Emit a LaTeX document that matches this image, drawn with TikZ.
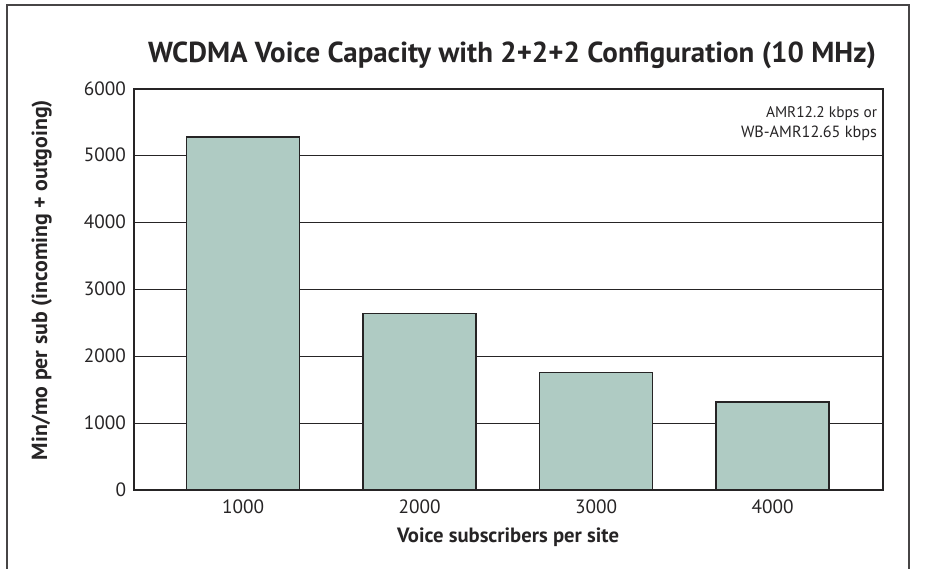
\documentclass[tikz,border=0pt]{standalone}
\usepackage{fontspec}
\usepackage{graphicx}
\setmainfont{PT Sans}
\definecolor{barfill}{RGB}{175,203,195}
\definecolor{ink}{RGB}{38,36,37}
% set a piece of text scaled to a given width
\newcommand{\fitto}[2]{\resizebox{#1}{!}{#2}}
\begin{document}
\begin{tikzpicture}[x=1pt,y=-1pt,
  gridline/.style={draw=ink,line width=1.3pt},
  bar/.style={draw=ink,line width=1.5pt,fill=barfill},
  txt/.style={text=ink,inner sep=0pt,outer sep=0pt,anchor=base},
]
\useasboundingbox (0,0) rectangle (925,569);
% outer frame, open at the bottom
\draw[ink!85,line width=1.4pt] (7,569) -- (7,5) -- (909,5) -- (909,569);

% title
\node[txt] (title) at (512,63)
  {\fitto{728pt}{\bfseries WCDMA Voice Capacity with 2+2+2 Configuration (10 MHz)}};

% horizontal grid lines, 1000 per 66.83 units
\foreach \v in {1,...,5}
  \draw[gridline] (134,{490-66.83*\v}) -- (883,{490-66.83*\v});

% bars, one per load level
\foreach \c/\val/\n in {243/5280/a,419.5/2640/b,596/1760/c,772.5/1320/d}
  \draw[bar] ({\c-56.5},490) rectangle ({\c+56.5},{490-0.06683*\val});

% plot frame
\draw[ink,line width=1.5pt] (134,490) -- (134,89) -- (883,89) -- (883,490);
\draw[ink,line width=2.2pt] (133,490) -- (884,490);

% y tick labels
\node[txt,anchor=base east] (y0) at (126,496) {\fitto{10.5pt}{0}};
\foreach \v in {1,...,6}
  \node[txt,anchor=base east] (y\v) at (126,{496-66.83*\v}) {\fitto{42pt}{\v000}};

% x tick labels
\foreach \c/\t in {243/1000,419.5/2000,596/3000,772.5/4000}
  \node[txt] (x\t) at (\c,513) {\fitto{42pt}{\t}};

% axis titles
\node[txt] (xtitle) at (508,542) {\fitto{222pt}{\bfseries Voice subscribers per site}};
\node[txt,rotate=90] (ytitle) at (47,280)
  {\fitto{360pt}{\bfseries Min/mo per sub (incoming + outgoing)}};

% codec note
\node[txt,anchor=base east] (note1) at (877,118) {\fitto{111pt}{AMR12.2 kbps or}};
\node[txt,anchor=base east] (note2) at (877,138) {\fitto{136pt}{WB-AMR12.65 kbps}};
\end{tikzpicture}
\end{document}
